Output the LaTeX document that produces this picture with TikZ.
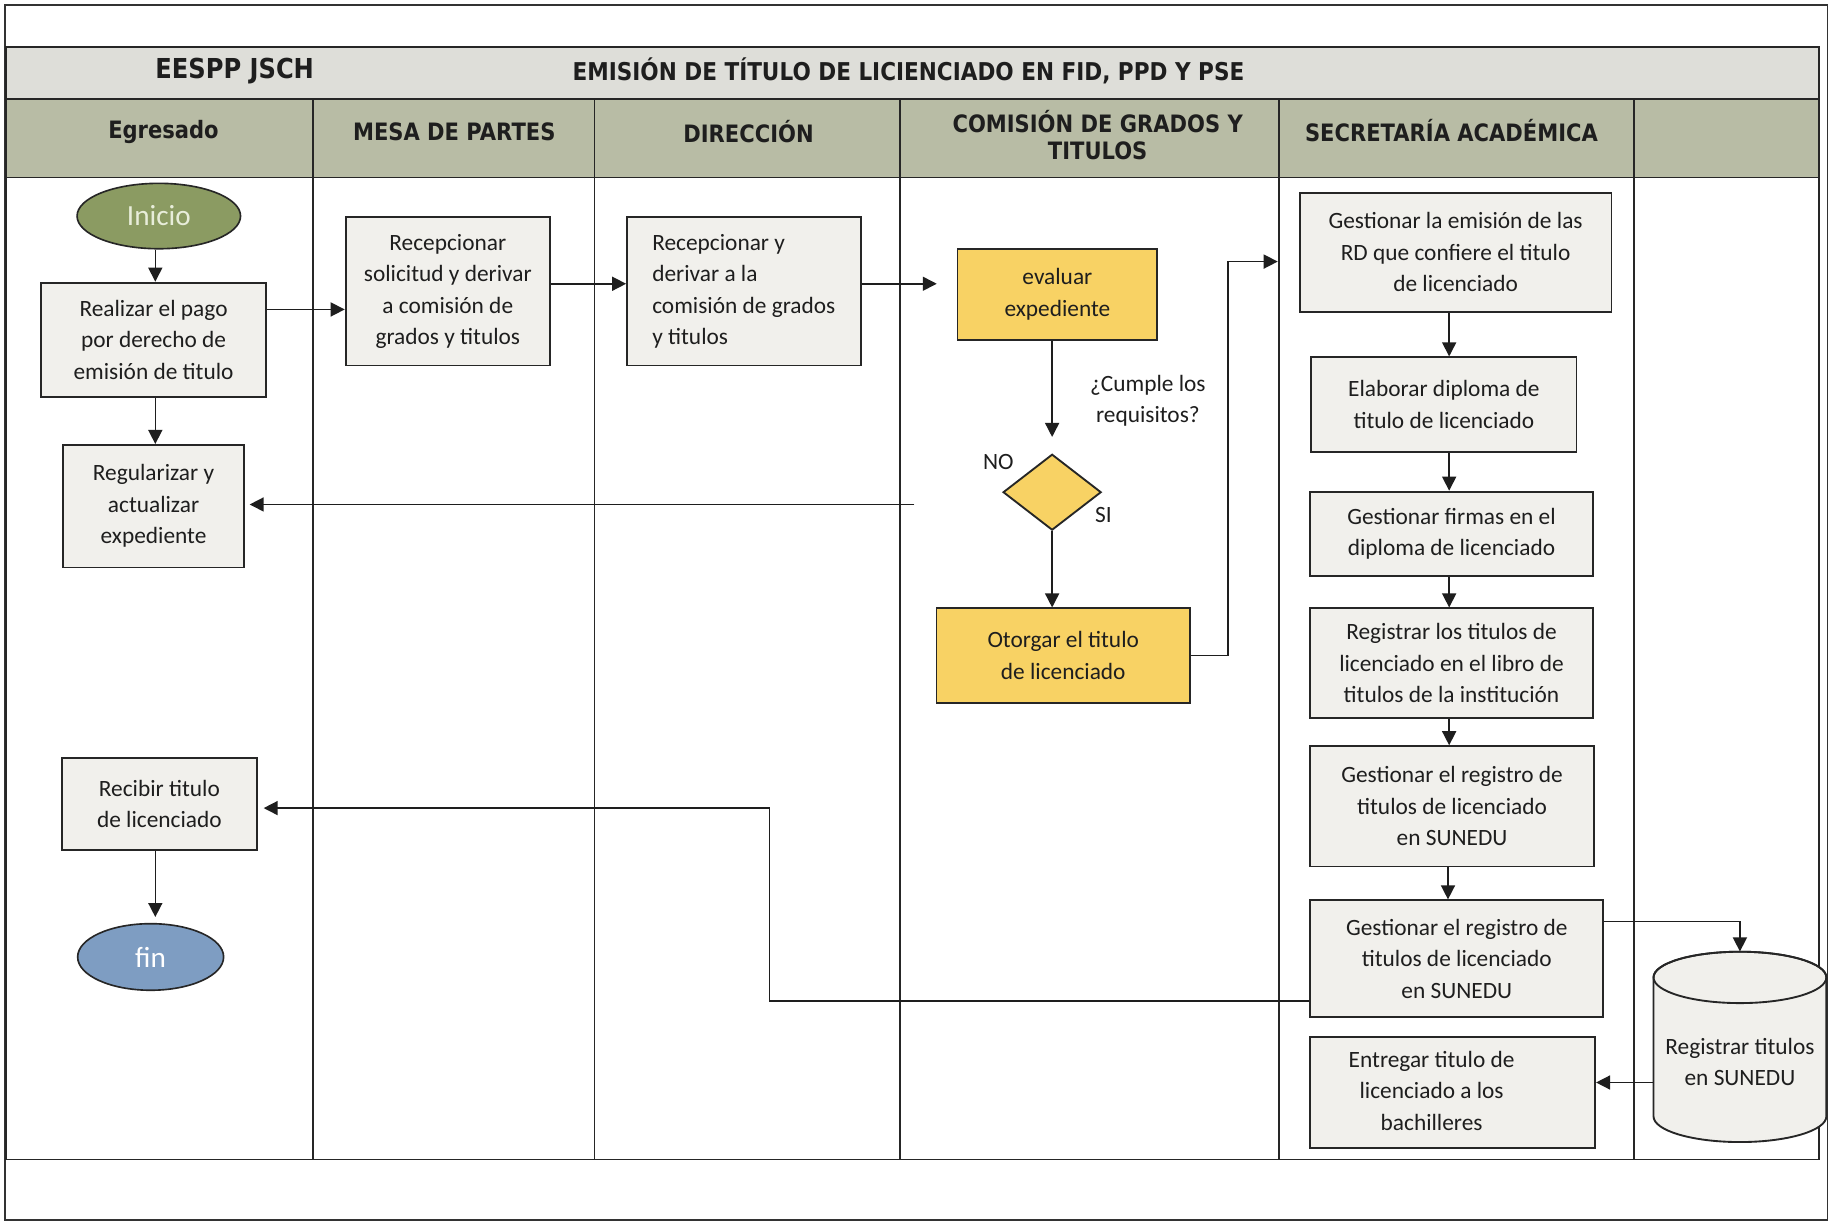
\documentclass[tikz,border=0pt]{standalone}
\usepackage{fontspec}
\setmainfont{Carlito}
\newfontfamily\hdrfont{DejaVu Sans}[FakeStretch=0.88]
\usetikzlibrary{arrows.meta,shapes.geometric}
\definecolor{boxfill}{HTML}{F1F0EC}
\definecolor{yellowfill}{HTML}{F8D264}
\definecolor{iniciofill}{HTML}{8B9B62}
\definecolor{iniciotext}{HTML}{E8EDDA}
\definecolor{finfill}{HTML}{7E9DC2}
\definecolor{titlefill}{HTML}{DEDED9}
\definecolor{hdrfill}{HTML}{B8BCA5}
\definecolor{ink}{HTML}{1E1E1E}
\begin{document}
\begin{tikzpicture}[x=1pt,y=-1pt,
  box/.style={draw=black!85, line width=1.6pt, fill=boxfill, align=center,
    font=\fontsize{20}{27}\selectfont, text=ink, inner sep=2pt},
  ybox/.style={box, fill=yellowfill},
  arr/.style={line width=1.3pt, draw=ink, -{Triangle[length=12pt,width=12pt]}},
  tbl/.style={line width=1.5pt, draw=black!85},
  hdr/.style={font=\hdrfont\bfseries\fontsize{20.5}{23}\selectfont, align=center, text=ink},
  lbl/.style={font=\fontsize{20}{27}\selectfont, text=ink, align=center, inner sep=0pt},
  term/.style={ellipse, draw=black!85, line width=1.4pt, inner sep=0pt,
    font=\fontsize{25}{30}\selectfont}
]
\useasboundingbox (0,0) rectangle (1568,1047);
\fill[white] (0,0) rectangle (1568,1047);
% table
\fill[titlefill] (5,40) rectangle (1558,85);
\fill[hdrfill] (5,85) rectangle (1558,152);
\draw[line width=1.5pt, draw=black!80] (4,4) rectangle (1565,1045);
\draw[tbl] (5,40) rectangle (1558,993);
\draw[tbl] (5,85) -- (1558,85) (5,152) -- (1558,152);
\foreach \x in {268,509,771,1095,1399} \draw[tbl] (\x,85) -- (\x,993);
% titles
\node[hdr, font=\hdrfont\bfseries\fontsize{23.5}{26}\selectfont] (t1) at (201,61) {EESPP JSCH};
\node[hdr, font=\hdrfont\bfseries\fontsize{21}{24}\selectfont] (t2) at (778,61) {EMISIÓN DE TÍTULO DE LICIENCIADO EN FID, PPD Y PSE};
\node[hdr] (h1) at (140,113) {Egresado};
\node[hdr] (h2) at (389,113) {MESA DE PARTES};
\node[hdr] (h3) at (641,113) {DIRECCIÓN};
\node[hdr] (h4) at (940,116) {COMISIÓN DE GRADOS Y\\TITULOS};
\node[hdr] (h5) at (1243,112) {SECRETARÍA ACADÉMICA};
% Egresado lane
\node[term, fill=iniciofill, text=iniciotext, minimum width=140pt, minimum height=56pt] (inicio) at (136,185) {Inicio};
\node[box, minimum width=193pt, minimum height=98pt] (pago) at (131.5,291) {Realizar el pago\\por derecho de\\emisión de titulo};
\node[box, minimum width=155pt, minimum height=105pt] (reg) at (131.5,433.5) {Regularizar y\\actualizar\\expediente};
\node[box, minimum width=167pt, minimum height=79pt] (recb) at (136.5,688.5) {Recibir titulo\\de licenciado};
\node[term, fill=finfill, text=white, minimum width=125pt, minimum height=57pt] (fin) at (129,819.5) {fin};
% Mesa de partes / Direccion
\node[box, minimum width=175pt, minimum height=127pt] (rec1) at (383.5,249.5) {Recepcionar\\solicitud y derivar\\a comisión de\\grados y titulos};
\node[box, align=left, minimum width=200pt, minimum height=127pt] (rec2) at (637,249.5) {Recepcionar y\\derivar a la\\comisión de grados\\y titulos};
% Comision
\node[ybox, minimum width=171pt, minimum height=78pt] (evl) at (905.5,252) {evaluar\\expediente};
\node[diamond, draw=black!85, line width=1.6pt, fill=yellowfill, inner sep=0pt, minimum width=84pt, minimum height=65pt] (dia) at (901,421.5) {};
\node[lbl] (q) at (983,343) {¿Cumple los\\requisitos?};
\node[lbl] (no) at (855,396) {NO};
\node[lbl] (si) at (945,441) {SI};
\node[ybox, minimum width=217pt, minimum height=81pt] (oto) at (910.5,561.5) {Otorgar el titulo\\de licenciado};
% Secretaria
\node[box, minimum width=267pt, minimum height=102pt] (sa) at (1246.5,216) {Gestionar la emisión de las\\RD que confiere el titulo\\de licenciado};
\node[box, minimum width=227pt, minimum height=81pt] (sb) at (1236.5,346.5) {Elaborar diploma de\\titulo de licenciado};
\node[box, minimum width=242pt, minimum height=72pt] (sc) at (1243,457) {Gestionar firmas en el\\diploma de licenciado};
\node[box, minimum width=242pt, minimum height=94pt] (sd) at (1243,568) {Registrar los titulos de\\licenciado en el libro de\\titulos de la institución};
\node[box, minimum width=243pt, minimum height=103pt] (se) at (1243.5,690.5) {Gestionar el registro de\\titulos de licenciado\\en SUNEDU};
\node[box, minimum width=251pt, minimum height=100pt] (sf) at (1247.5,821) {Gestionar el registro de\\titulos de licenciado\\en SUNEDU};
\node[box, minimum width=244pt, minimum height=95pt] (sg) at (1244,935.5) {\begin{tabular}{@{}c@{}}Entregar titulo de\\licenciado a los\\bachilleres\end{tabular}\hspace*{36pt}};
% cylinder
\filldraw[fill=boxfill, draw=black!85, line width=1.6pt]
  (1416,837) -- (1416,956) arc[start angle=180, end angle=360, x radius=74pt, y radius=22pt]
  -- (1564,837) arc[start angle=0, end angle=180, x radius=74pt, y radius=22pt] -- cycle;
\draw[draw=black!85, line width=1.6pt] (1490,837) ellipse[x radius=74pt, y radius=22pt];
\node[lbl, minimum width=148pt, minimum height=189pt] (cyl) at (1490,909.5) {Registrar titulos\\en SUNEDU};
% connectors
\draw[arr] (133,0 |- inicio.south) -- (133,0 |- pago.north);
\draw[arr] (133,0 |- pago.south) -- (133,0 |- reg.north);
\draw[arr] (pago.east |- 0,265) -- (rec1.west |- 0,265);
\draw[arr] (rec1.east |- 0,243) -- (rec2.west |- 0,243);
\draw[arr, shorten >=17pt] (rec2.east |- 0,243) -- (evl.west |- 0,243);
\draw[arr, shorten >=14pt] (dia.north |- evl.south) -- (dia.north);
\draw[arr] (dia.south) -- (dia.south |- oto.north);
\coordinate (noend) at (783,432);
\draw[arr, shorten >=4pt] (noend) -- (noend -| reg.east);
\draw[arr, shorten >=18pt] (oto.east) -- ++(32,0) |- (sa.west |- 0,224);
\draw[arr] (1241,0 |- sa.south) -- (1241,0 |- sb.north);
\draw[arr] (1241,0 |- sb.south) -- (1241,0 |- sc.north);
\draw[arr] (1241,0 |- sc.south) -- (1241,0 |- sd.north);
\draw[arr] (1241,0 |- sd.south) -- (1241,0 |- se.north);
\draw[arr] (1240,0 |- se.south) -- (1240,0 |- sf.north);
\draw[arr] (sf.east |- 0,789) -| (cyl.north);
\draw[arr, shorten >=5pt] (sf.west |- 0,857) -| (659,692) -- (recb.east |- 0,692);
\draw[arr] (cyl.west |- 0,927) -- (sg.east |- 0,927);
\draw[arr, shorten >=5pt] (133,0 |- recb.south) -- (133,0 |- fin.north);
\end{tikzpicture}
\end{document}
